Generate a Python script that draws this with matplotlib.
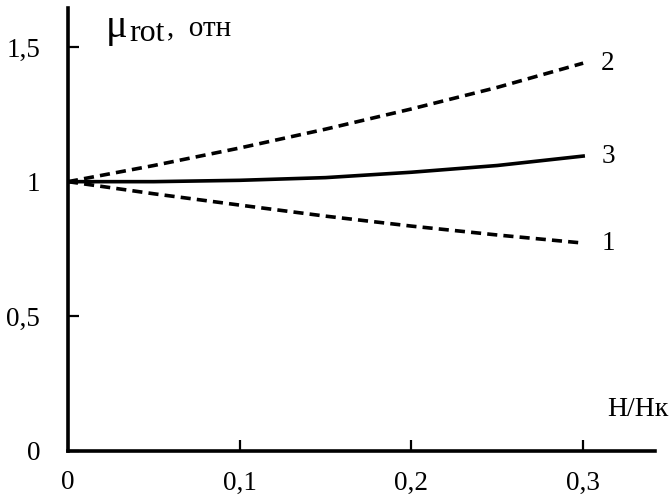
import numpy as np
import matplotlib
matplotlib.use('Agg')
import matplotlib.pyplot as plt

plt.rcParams['font.family'] = ['Liberation Serif', 'DejaVu Serif']

# H/Hk values and relative mu_rot for the three curves
h = [0.0, 0.05, 0.1, 0.15, 0.2, 0.25, 0.3]
mu_1 = [1.0, 0.955, 0.913, 0.872, 0.835, 0.802, 0.772]
mu_2 = [1.0, 1.06, 1.125, 1.195, 1.27, 1.35, 1.44]
mu_3 = [1.0, 1.0, 1.005, 1.015, 1.035, 1.06, 1.095]
curve_labels = ['1', '2', '3']

x_ticks = [0, 0.1, 0.2, 0.3]
x_ticklabels = ['0', '0,1', '0,2', '0,3']
y_ticks = [0, 0.5, 1, 1.5]
y_ticklabels = ['0', '0,5', '1', '1,5']

fig = plt.figure(figsize=(6.7, 4.97), dpi=100)
ax = fig.add_axes([0.1015, 0.0926, 0.8765, 0.8914])

dash = (0, (2.8, 1.7))
ax.plot(h, mu_1, color='black', lw=2.6, ls=dash)
ax.plot(h, mu_2, color='black', lw=2.6, ls=dash)
ax.plot(h, mu_3, color='black', lw=2.6)

for lab, ys in zip(curve_labels, [mu_1, mu_2, mu_3]):
    ax.annotate(lab, xy=(h[-1], ys[-1]), xytext=(13, 0), textcoords='offset points',
                fontsize=19.5, va='center', ha='left')

ax.set_xlim(0, 0.342)
ax.set_ylim(0, 1.645)
ax.set_xticks(x_ticks)
ax.set_xticklabels(x_ticklabels)
ax.set_yticks(y_ticks)
ax.set_yticklabels(y_ticklabels)
ax.tick_params(direction='in', length=8, width=1.6, labelsize=19.5)
ax.tick_params(axis='x', pad=14)
ax.tick_params(axis='y', pad=20)

for s in ['top', 'right']:
    ax.spines[s].set_visible(False)
for s in ['left', 'bottom']:
    ax.spines[s].set_linewidth(2.6)

# axis captions
ax.text(0.064, 0.934, 'μ', transform=ax.transAxes, fontsize=29,
        va='baseline', ha='left')
ax.text(0.104, 0.926, 'rot', transform=ax.transAxes, fontsize=23,
        va='baseline', ha='left')
ax.text(0.168, 0.937, ',  отн', transform=ax.transAxes, fontsize=21,
        va='baseline', ha='left')
ax.text(1.022, 0.093, 'H/Hк', transform=ax.transAxes, fontsize=20,
        va='center', ha='right')

fig.savefig('out.png', dpi=100)
